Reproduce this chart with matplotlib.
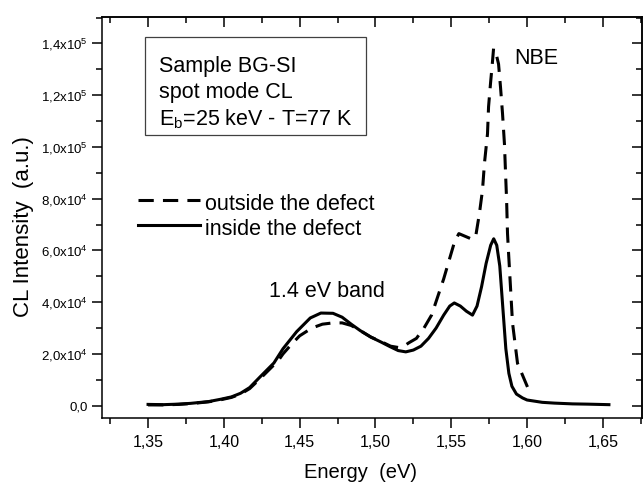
import matplotlib
matplotlib.use("Agg")
import matplotlib.pyplot as plt
from matplotlib.ticker import MultipleLocator, FixedLocator
from matplotlib.patches import Rectangle

# CL spectrum outside the defect (dashed)
energy_out = [1.350, 1.360, 1.370, 1.380, 1.390, 1.398, 1.405, 1.411, 1.417, 1.424,
              1.430, 1.436, 1.439, 1.445, 1.450, 1.458, 1.465, 1.472, 1.478, 1.484,
              1.490, 1.497, 1.504, 1.510, 1.515, 1.520, 1.522, 1.527, 1.532, 1.537,
              1.541, 1.545, 1.549, 1.552, 1.555, 1.559, 1.563, 1.566, 1.5686, 1.5706,
              1.5719, 1.5739, 1.5746, 1.5759, 1.5772, 1.5779, 1.5792, 1.5812, 1.5825, 1.5838,
              1.5851, 1.5858, 1.5865, 1.5871, 1.5878, 1.5904, 1.5937, 1.6003, 1.6036]
cl_out = [300, 300, 500, 900, 1500, 2300, 3200, 4500, 6600, 10500,
          14000, 17500, 20000, 24000, 27000, 30000, 31500, 32000, 32000, 31000,
          29000, 26500, 24700, 23000, 22500, 23500, 24300, 26000, 30000, 35000,
          42000, 49000, 57000, 63000, 66500, 65500, 64500, 65000, 74400, 83300,
          93700, 105000, 115500, 124600, 133000, 138000, 137000, 132000, 123000, 113000,
          101000, 90000, 79500, 66600, 59000, 32000, 16400, 7200, 5300]

# CL spectrum inside the defect (solid)
energy_in = [1.350, 1.360, 1.370, 1.378, 1.390, 1.398, 1.405, 1.411, 1.417, 1.424,
             1.433, 1.439, 1.448, 1.457, 1.464, 1.472, 1.478, 1.484, 1.490, 1.497,
             1.504, 1.510, 1.515, 1.520, 1.525, 1.530, 1.535, 1.540, 1.545, 1.549,
             1.552, 1.556, 1.560, 1.564, 1.567, 1.570, 1.573, 1.576, 1.578, 1.580,
             1.582, 1.584, 1.586, 1.588, 1.590, 1.593, 1.597, 1.600, 1.610, 1.618,
             1.630, 1.640, 1.654]
cl_in = [500, 400, 600, 900, 1600, 2500, 3400, 4800, 7000, 11200,
         16500, 22000, 28600, 33900, 35800, 35700, 34200, 31500, 29000, 26500,
         24500, 22700, 21300, 20800, 21500, 23000, 26000, 30000, 35000, 38500,
         39700, 38500, 36500, 35000, 38500, 46000, 55000, 62000, 64500, 62000,
         54000, 38000, 22000, 12500, 7500, 4500, 3000, 2200, 1300, 1000,
         700, 600, 400]

x_ticks = [1.35, 1.40, 1.45, 1.50, 1.55, 1.60, 1.65]
x_tick_labels = ["1,35", "1,40", "1,45", "1,50", "1,55", "1,60", "1,65"]
y_ticks = [0, 20000, 40000, 60000, 80000, 100000, 120000, 140000]
y_tick_labels = ["0,0", "2,0x10$^{4}$", "4,0x10$^{4}$", "6,0x10$^{4}$",
                 "8,0x10$^{4}$", "1,0x10$^{5}$", "1,2x10$^{5}$", "1,4x10$^{5}$"]

plt.rcParams["font.family"] = ["Liberation Sans", "DejaVu Sans"]
plt.rcParams["mathtext.fontset"] = "custom"
plt.rcParams["mathtext.rm"] = "Liberation Sans"
plt.rcParams["mathtext.it"] = "Liberation Sans"
plt.rcParams["mathtext.default"] = "regular"

fig = plt.figure(figsize=(6.43, 4.83), dpi=100)
ax = fig.add_axes([0.1586, 0.1346, 0.8398, 0.8302])

ax.plot(energy_out, cl_out, color="black", lw=2.2, dashes=(5, 3))
ax.plot(energy_in, cl_in, color="black", lw=2.2)

ax.set_xlim(1.3196, 1.6758)
ax.set_ylim(-4750, 150200)

ax.set_xticks(x_ticks)
ax.set_xticklabels(x_tick_labels, fontsize=11.5)
ax.set_yticks(y_ticks)
ax.set_yticklabels(y_tick_labels, fontsize=9.5)
ax.xaxis.set_minor_locator(MultipleLocator(0.025))
ax.yaxis.set_minor_locator(MultipleLocator(10000))
ax.tick_params(axis="x", which="major", direction="out", length=7, width=1.1, pad=5)
ax.tick_params(axis="y", which="major", direction="out", length=7, width=1.1, pad=3.5)
ax.tick_params(which="minor", direction="out", length=4, width=1.1)
for s in ax.spines.values():
    s.set_linewidth(1.1)

# inward ticks on top and right
top = ax.secondary_xaxis("top")
top.xaxis.set_major_locator(FixedLocator(x_ticks))
top.xaxis.set_minor_locator(MultipleLocator(0.025))
top.tick_params(which="both", direction="in", width=1.1, labeltop=False)
top.tick_params(which="major", length=7)
top.tick_params(which="minor", length=4)
top.spines["top"].set_linewidth(1.1)

right = ax.secondary_yaxis("right")
right.yaxis.set_major_locator(FixedLocator(y_ticks))
right.yaxis.set_minor_locator(MultipleLocator(10000))
right.tick_params(which="both", direction="in", width=1.1, labelright=False)
right.tick_params(which="major", length=7)
right.tick_params(which="minor", length=4)
right.spines["right"].set_linewidth(1.1)

fig.text(0.56, 0.011, "Energy  (eV)", fontsize=14.5, ha="center", va="baseline")
fig.text(0.037, 0.530, "CL Intensity  (a.u.)", fontsize=16, rotation=90,
         ha="center", va="center")

# info box
ax.add_patch(Rectangle((0.0796, 0.7057), 0.4093, 0.2444, transform=ax.transAxes,
                       fill=False, lw=0.9, edgecolor="#404040"))
ax.text(0.1056, 0.8628, "Sample BG-SI", transform=ax.transAxes, fontsize=15.5, va="baseline")
ax.text(0.1056, 0.798, "spot mode CL", transform=ax.transAxes, fontsize=15.5, va="baseline")
ax.text(0.1056, 0.7307, "E$_{b}$=25 keV - T=77 K", transform=ax.transAxes,
        fontsize=15.5, va="baseline")

# legend drawn by hand
ax.plot([0.0667, 0.1815], [0.5436, 0.5436], transform=ax.transAxes, color="black",
        lw=2.2, dashes=(5, 3))
ax.plot([0.0667, 0.1815], [0.4813, 0.4813], transform=ax.transAxes, color="black", lw=2.2)
ax.text(0.1907, 0.5187, "outside the defect", transform=ax.transAxes, fontsize=15.5,
        va="baseline")
ax.text(0.1907, 0.4564, "inside the defect", transform=ax.transAxes, fontsize=15.5,
        va="baseline")

ax.text(0.763, 0.8828, "NBE", transform=ax.transAxes, fontsize=15.5, va="baseline")
ax.text(0.3093, 0.3017, "1.4 eV band", transform=ax.transAxes, fontsize=15.5, va="baseline")

fig.savefig("out.png", dpi=100)
